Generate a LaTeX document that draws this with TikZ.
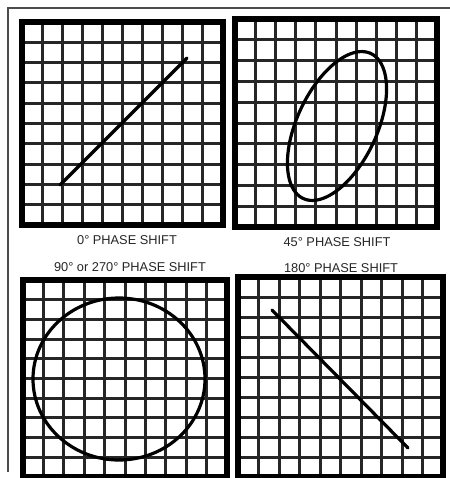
\documentclass[tikz,border=0pt]{standalone}
\usepackage{fontspec}
\setmainfont{Liberation Sans}
\usepackage{tikz}

\tikzset{
  gridline/.style={black!85, line width=1.5pt},
  screenframe/.style={black, line width=2.6pt},
  trace/.style={black, line width=1.6pt, line cap=round},
  caption/.style={text=black!85, font=\fontsize{6.4}{7}\selectfont, inner sep=0pt},
  border/.style={black!70, line width=0.9pt}
}

% 10 x 10 screen grid between (x0,y0) and (x1,y1)
\newcommand{\screengrid}[4]{%
  \foreach \k in {1,...,9} {
    \pgfmathsetmacro{\gx}{#1+\k*(#3-#1)/10}
    \pgfmathsetmacro{\gy}{#2+\k*(#4-#2)/10}
    \draw[gridline] (\gx,#2) -- (\gx,#4);
    \draw[gridline] (#1,\gy) -- (#3,\gy);
  }
  \draw[screenframe] (#1,#2) rectangle (#3,#4);
}

\begin{document}
\begin{tikzpicture}[x=0.5pt, y=-0.5pt]
  \useasboundingbox[fill=white] (0,0) rectangle (450,478);

  % page border
  \coordinate (cornerTL) at (8,8);
  \coordinate (cornerTR) at (450,8);
  \coordinate (cornerBL) at (8,472);
  \draw[border] (cornerTR) -- (cornerTL) -- (cornerBL);

  % screens
  \screengrid{22}{22}{223}{225}
  \screengrid{235}{19}{437}{227}
  \screengrid{23}{280}{227}{477}
  \screengrid{238}{277}{443}{477}

  % 0 degrees
  \coordinate (zeroA) at (60,185);
  \coordinate (zeroB) at (187,58);
  \draw[trace] (zeroA) -- (zeroB);

  % 45 degrees
  \draw[trace] plot[domain=0:360, samples=90, smooth cycle]
    ({337+80*cos(\x)*cos(65)+40*sin(\x)*sin(65)},
     {126-80*cos(\x)*sin(65)+40*sin(\x)*cos(65)});

  % 90 or 270 degrees
  \coordinate (circC) at (119,379);
  \draw[trace] (circC) ellipse[x radius=86, y radius=81];

  % 180 degrees
  \coordinate (oneeightyA) at (272,310);
  \coordinate (oneeightyB) at (408,448);
  \draw[trace] (oneeightyA) -- (oneeightyB);

  % captions
  \node[caption] (capzero) at (127,240) {0° PHASE SHIFT};
  \node[caption] (capfortyfive) at (337,242) {45° PHASE SHIFT};
  \node[caption] (capninety) at (130,267) {90° or 270° PHASE SHIFT};
  \node[caption] (caponeeighty) at (341,268) {180° PHASE SHIFT};
\end{tikzpicture}
\end{document}
